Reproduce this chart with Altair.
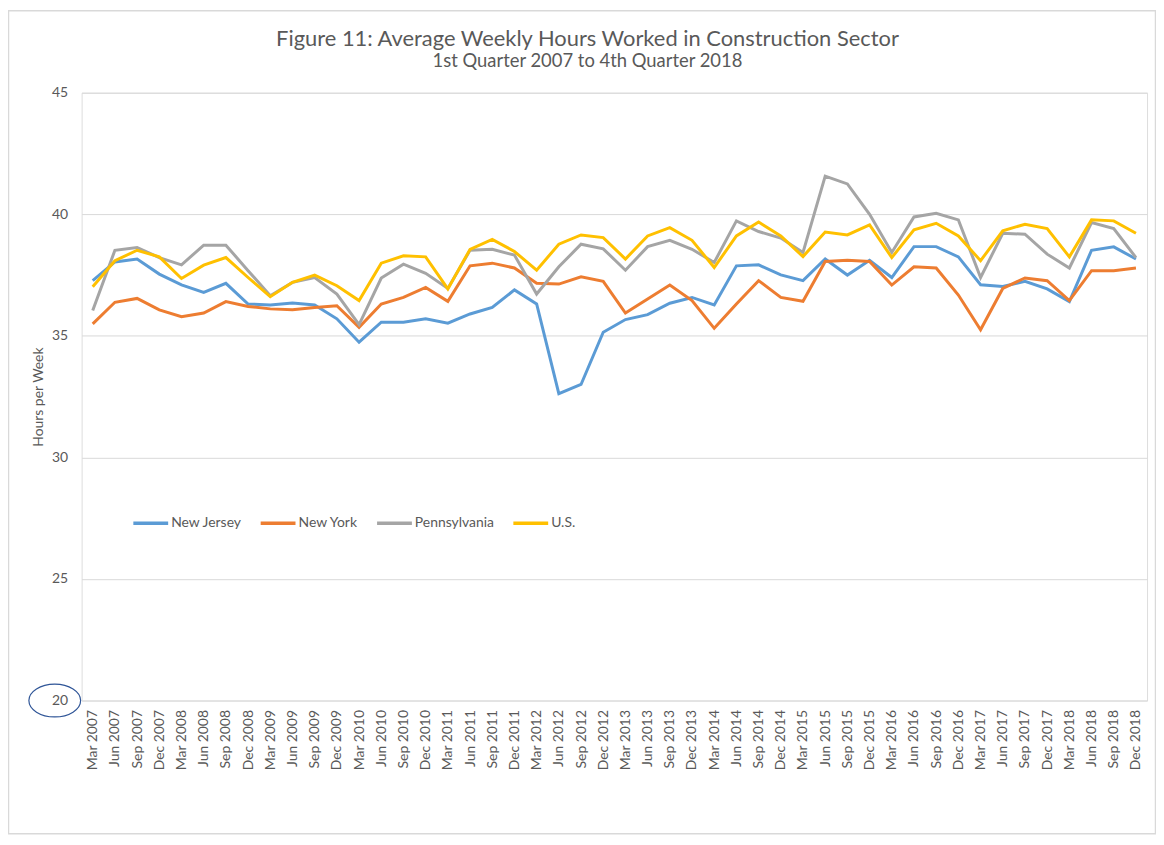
import altair as alt
import pandas as pd

title_text = "Figure 11: Average Weekly Hours Worked in Construction Sector"
subtitle_text = "1st Quarter 2007 to 4th Quarter 2018"

quarters = [f"{m} {y}" for y in range(2007, 2019) for m in ["Mar", "Jun", "Sep", "Dec"]]

series_names = ["New Jersey", "New York", "Pennsylvania", "U.S."]
series_colors = ["#5B9BD5", "#ED7D31", "#A5A5A5", "#FFC000"]

new_jersey = [37.27, 38.04, 38.16, 37.54, 37.10, 36.79, 37.16, 36.31, 36.27, 36.35, 36.27, 35.70,
              34.74, 35.56, 35.56, 35.70, 35.52, 35.90, 36.17, 36.89, 36.31, 32.62, 33.00, 35.15,
              35.67, 35.87, 36.34, 36.58, 36.27, 37.88, 37.92, 37.51, 37.27, 38.16, 37.50, 38.11,
              37.40, 38.67, 38.67, 38.25, 37.10, 37.03, 37.24, 36.93, 36.41, 38.52, 38.66, 38.16]
new_york = [35.49, 36.38, 36.54, 36.07, 35.79, 35.94, 36.41, 36.21, 36.11, 36.07, 36.17, 36.24,
            35.35, 36.31, 36.58, 36.99, 36.42, 37.88, 37.99, 37.79, 37.16, 37.13, 37.43, 37.24,
            35.94, 36.52, 37.09, 36.45, 35.31, 36.31, 37.27, 36.58, 36.42, 38.06, 38.11, 38.06,
            37.09, 37.84, 37.79, 36.68, 35.25, 36.95, 37.38, 37.27, 36.45, 37.68, 37.68, 37.79]
pennsylvania = [36.04, 38.52, 38.63, 38.22, 37.92, 38.73, 38.73, 37.68, 36.65, 37.20, 37.40, 36.72,
                35.46, 37.38, 37.95, 37.57, 36.95, 38.52, 38.56, 38.32, 36.72, 37.84, 38.77, 38.58,
                37.70, 38.67, 38.93, 38.56, 38.02, 39.73, 39.29, 39.02, 38.43, 41.57, 41.25, 40.00,
                38.43, 39.89, 40.04, 39.77, 37.40, 39.22, 39.18, 38.36, 37.79, 39.66, 39.41, 38.22]
us = [37.02, 38.09, 38.52, 38.25, 37.36, 37.91, 38.22, 37.40, 36.61, 37.20, 37.50, 37.06,
      36.45, 37.99, 38.29, 38.25, 36.93, 38.56, 38.97, 38.47, 37.70, 38.77, 39.15, 39.04,
      38.16, 39.11, 39.45, 38.93, 37.81, 39.11, 39.68, 39.11, 38.26, 39.27, 39.15, 39.56,
      38.22, 39.36, 39.63, 39.11, 38.09, 39.32, 39.59, 39.41, 38.25, 39.77, 39.73, 39.22]

y_ticks = [20, 25, 30, 35, 40, 45]

rows = []
for name, vals in zip(series_names, [new_jersey, new_york, pennsylvania, us]):
    for q, v in zip(quarters, vals):
        rows.append({"Quarter": q, "Series": name, "Hours": v})
df = pd.DataFrame(rows)

W, H = 1071, 611
FONT = "Lato"
GREY = "#595959"

lines = alt.Chart(df).mark_line(strokeWidth=3).encode(
    x=alt.X("Quarter:O", sort=quarters,
            axis=alt.Axis(title=None, labelAngle=-90, labelPadding=9, ticks=False, domain=False,
                          labelFontSize=14, labelColor=GREY, labelFont=FONT)),
    y=alt.Y("Hours:Q", scale=alt.Scale(domain=[20, 45], nice=False, zero=False),
            axis=alt.Axis(title="Hours per Week", values=y_ticks, ticks=False, domain=False,
                          labelPadding=14, labelFontSize=14, labelColor=GREY, labelFont=FONT,
                          gridColor="#D9D9D9", gridWidth=1,
                          titleFontSize=14, titleFontWeight="normal", titleColor=GREY, titleFont=FONT,
                          titleAngle=-90, titleX=-36, titleY=H / 2, titleBaseline="bottom",
                          titleAlign="center")),
    color=alt.Color("Series:N", sort=series_names,
                    scale=alt.Scale(domain=series_names, range=series_colors),
                    legend=alt.Legend(title=None, orient="none", legendX=50, legendY=413,
                                      direction="horizontal", symbolType="stroke",
                                      symbolSize=1225, symbolStrokeWidth=3.5,
                                      labelFontSize=14, labelColor=GREY, labelFont=FONT,
                                      labelOffset=1, columnPadding=12, padding=0)),
)

ellipse_path = ("M -1.576 0 C -1.576 -0.552 -0.870 -1 0 -1 C 0.870 -1 1.576 -0.552 1.576 0 "
                "C 1.576 0.552 0.870 1 0 1 C -0.870 1 -1.576 0.552 -1.576 0 Z")
marker = alt.Chart(pd.DataFrame({"v": [20]})).mark_point(
    shape=ellipse_path, size=1089, filled=False, stroke="#2F5597", strokeWidth=1.2, opacity=1
).encode(x=alt.value(-27), y=alt.Y("v:Q"))

frame = alt.Chart(pd.DataFrame({"v": [0]})).mark_rect(
    fill=None, stroke="#D9D9D9", strokeWidth=1.5
).encode(x=alt.value(-73.5), x2=alt.value(W + 8.5), y=alt.value(-82.5), y2=alt.value(H + 134))

title_main = alt.Chart(pd.DataFrame({"t": [title_text]})).mark_text(
    font=FONT, fontSize=22, color=GREY, align="center", baseline="alphabetic"
).encode(text="t:N", x=alt.value(W / 2 - 27), y=alt.value(-46.5))
title_sub = alt.Chart(pd.DataFrame({"t": [subtitle_text]})).mark_text(
    font=FONT, fontSize=18.5, color=GREY, align="center", baseline="alphabetic"
).encode(text="t:N", x=alt.value(W / 2 - 27), y=alt.value(-25.5))

chart = alt.layer(frame, lines, marker, title_main, title_sub).properties(
    width=W, height=H,
    autosize=alt.AutoSizeParams(type="none"),
    padding={"left": 74, "top": 83, "right": 9, "bottom": 135},
).configure_view(stroke=None).configure(background="white")

chart.save("out.html", embed_options={"renderer": "svg", "actions": False})
